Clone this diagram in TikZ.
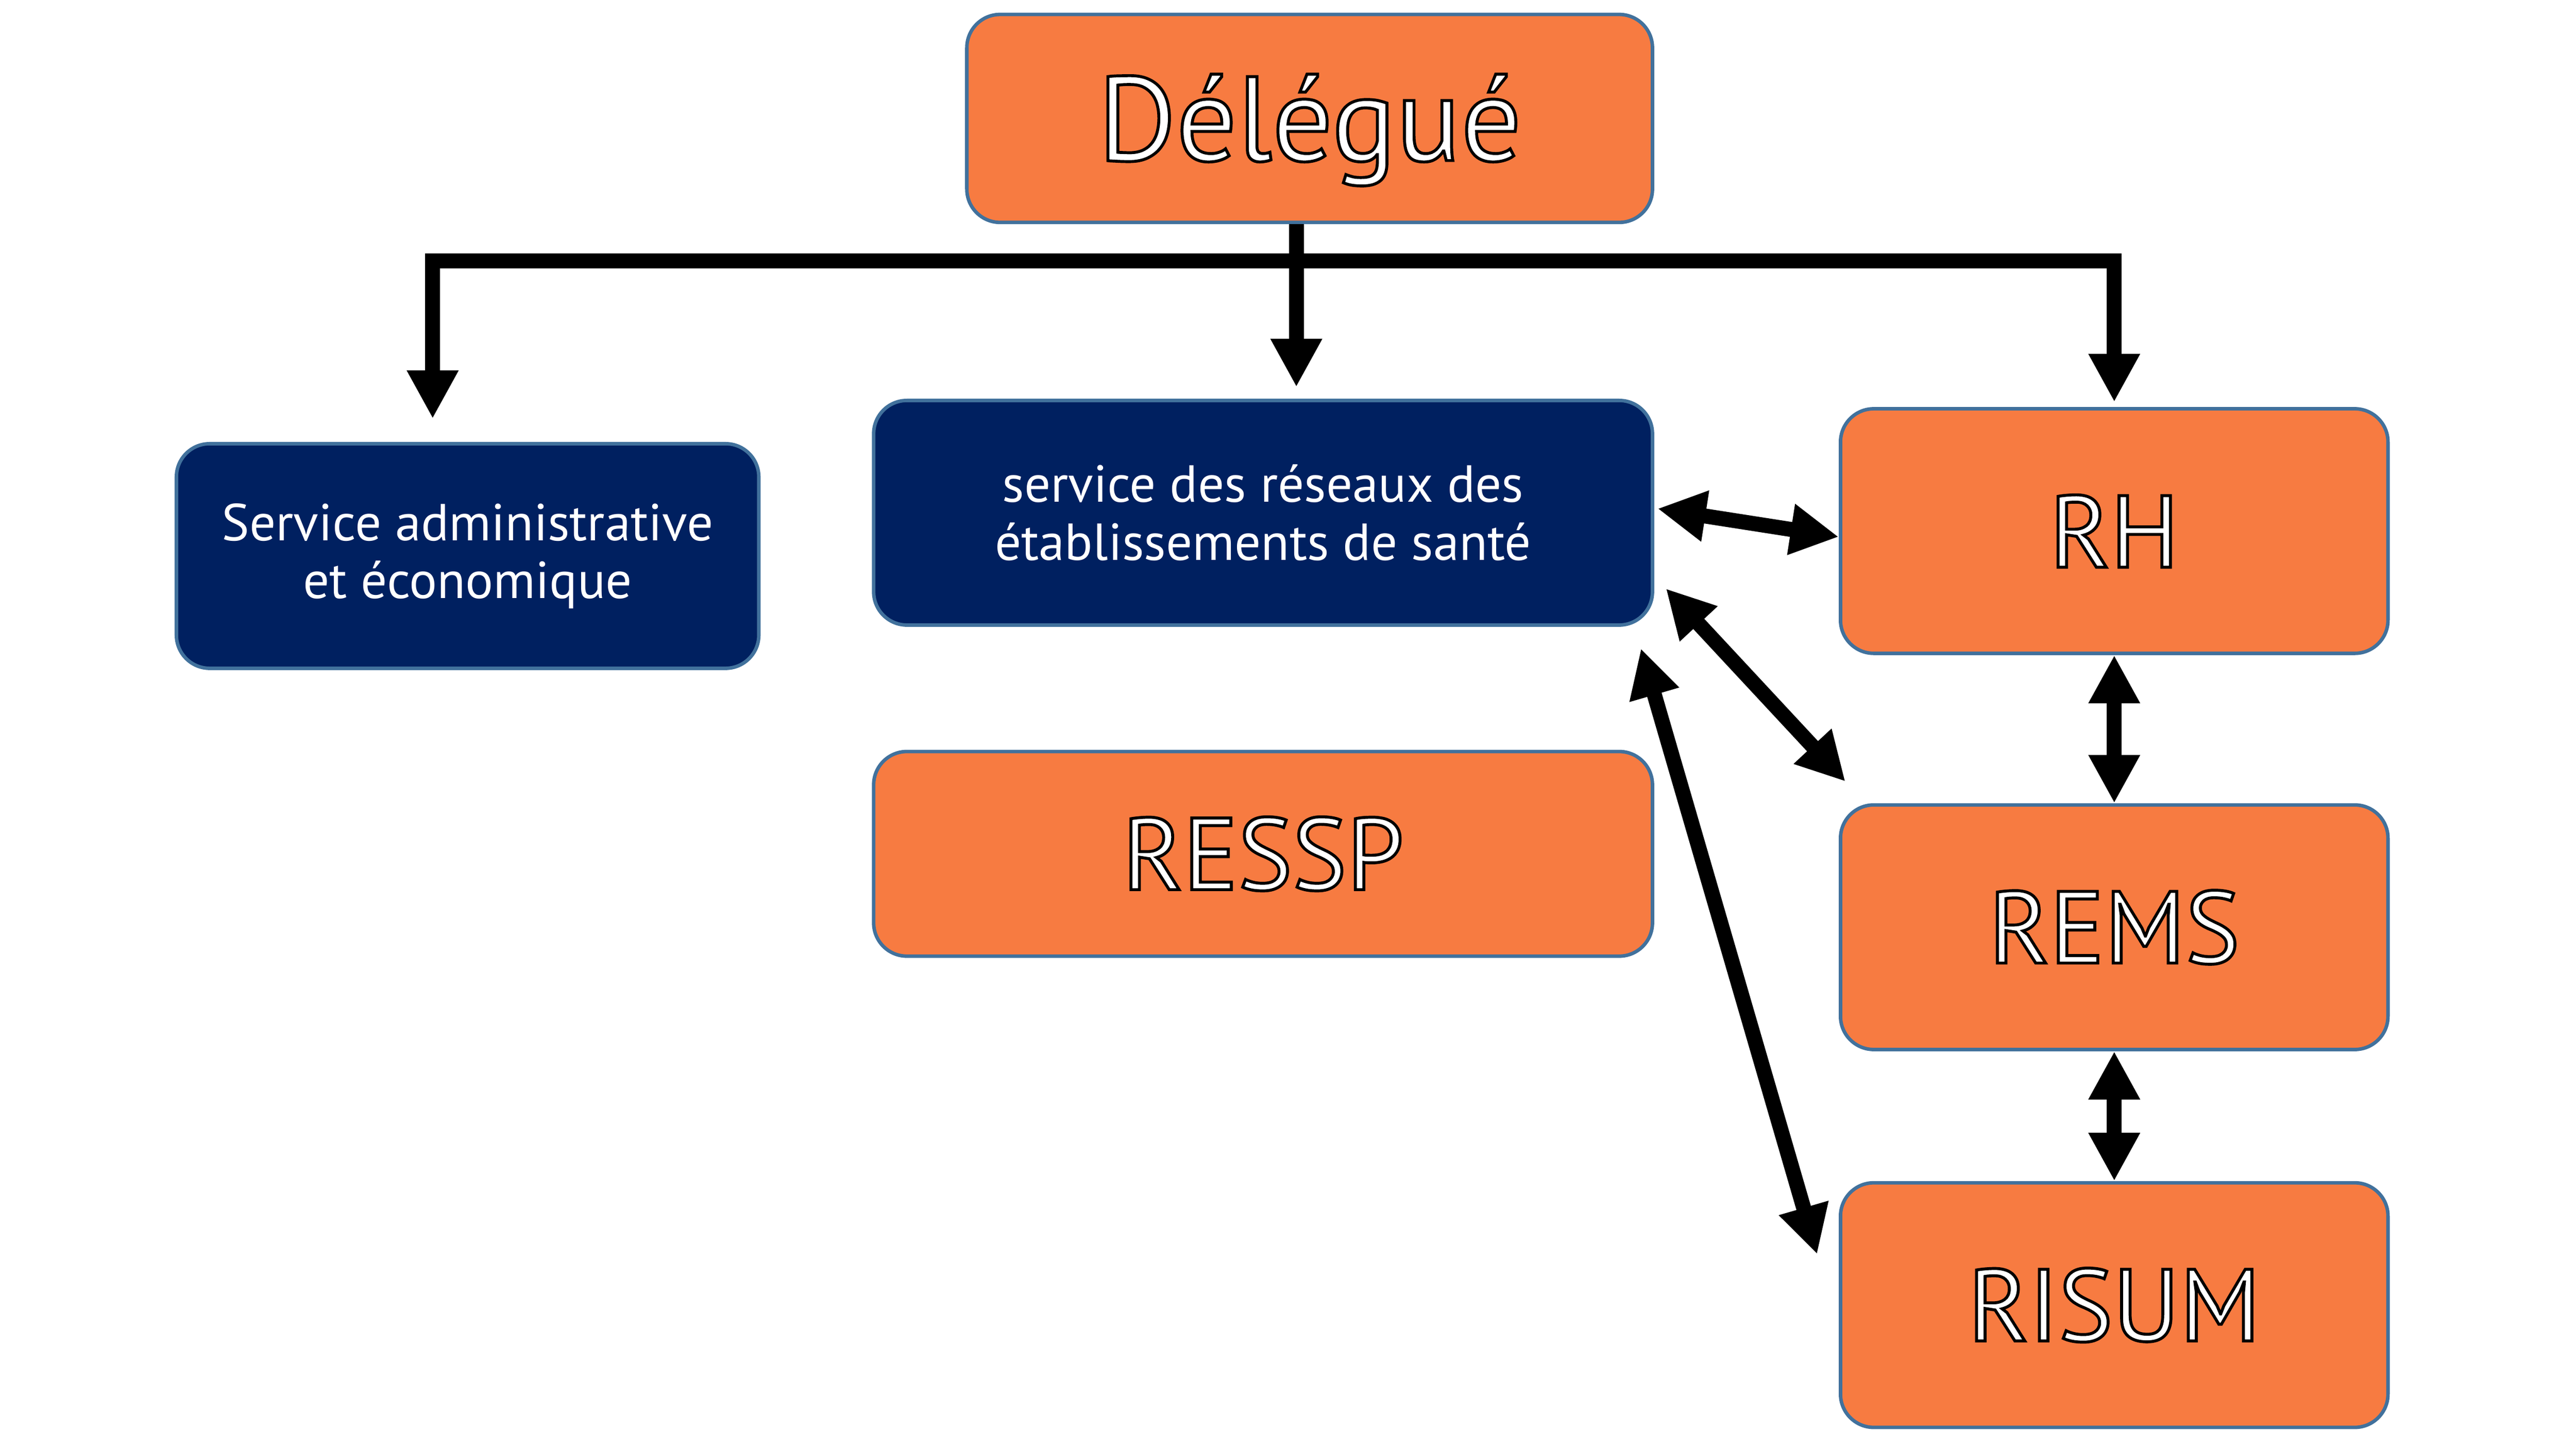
\documentclass[tikz,border=0pt]{standalone}
\usepackage{fontspec}
\setmainfont{PT Sans}
\usetikzlibrary{positioning,arrows.meta}
\definecolor{orng}{RGB}{247,123,65}
\definecolor{navy}{RGB}{0,32,96}
\definecolor{edge}{RGB}{65,113,156}
\newcommand{\outl}[1]{{\color{white}\special{pdf:literal direct 0 G 2 Tr 0.5 w}#1\special{pdf:literal direct 0 Tr}}}

\begin{document}
\begin{tikzpicture}[x=1cm, y=1cm, >={Triangle[length=0.29cm,width=0.29cm]},
    box/.style = {shape=rectangle, rounded corners=0.2cm, draw=edge, line width=0.6pt, align=center, inner sep=0pt},
    orangebox/.style = {box, fill=orng, font=\fontsize{17.5}{20}\selectfont},
    bluebox/.style = {box, fill=navy, text=white, font=\fontsize{8.9}{9.9}\selectfont},
    link/.style = {line width=0.09cm, <->},
    down/.style = {line width=0.09cm, ->}]
    \useasboundingbox (0,0) rectangle (15.48,8.707);
    \node[orangebox, minimum width=4.12cm, minimum height=1.25cm, font=\fontsize{20.5}{24}\selectfont] (deleg) at (7.87,7.995) {\raisebox{-0.07cm}[\height][\depth]{\outl{Délégué}}};
    \node[bluebox, minimum width=3.50cm, minimum height=1.35cm] (admin) at (2.81,5.365) {Service administrative\\et économique};
    \node[bluebox, minimum width=4.68cm, minimum height=1.35cm] (reseaux) at (7.59,5.625) {service des réseaux des\\établissements de santé};
    \node[orangebox, minimum width=4.68cm, minimum height=1.23cm] (ressp) at (7.59,3.575) {\outl{RESSP}};
    \node[orangebox, minimum width=3.29cm, minimum height=1.47cm] (rh) at (12.705,5.515) {\outl{RH}};
    \node[orangebox, minimum width=3.29cm, minimum height=1.47cm, below=0.89cm of rh] (rems) {\outl{REMS}};
    \node[orangebox, minimum width=3.29cm, minimum height=1.47cm, below=0.78cm of rems] (risum) {\outl{RISUM}};

    \coordinate (barR) at (12.705,7.14);
    \coordinate (barM) at (7.79,7.14);
    \draw[link] ([xshift=-0.21cm,yshift=0.14cm]admin.north) |- (barR) -- ([yshift=0.03cm]rh.north);
    \draw[down] (deleg.south -| barM) -- ([yshift=0.07cm]reseaux.north -| barM);
    \draw[link] ([shift={(0.02,0.025)}]reseaux.east) -- ([yshift=-0.035cm]rh.west);
    \draw[link] ([shift={(0.07,0.23)}]reseaux.south east) -- ([shift={(0.04,0.13)}]rems.north west);
    \draw[link] ([shift={(-0.08,-0.13)}]reseaux.south east) -- ([shift={(-0.13,-0.44)}]risum.north west);
    \draw[link] (rh.south) -- (rems.north);
    \draw[link] (rems.south) -- (risum.north);
\end{tikzpicture}
\end{document}
